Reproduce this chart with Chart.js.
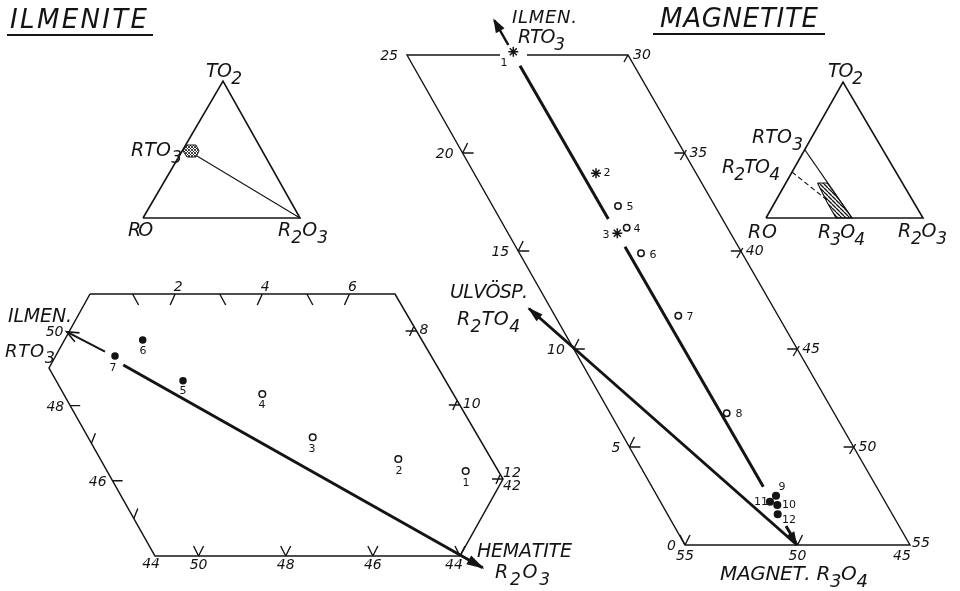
<!DOCTYPE html>
<html>
<head>
<meta charset="utf-8">
<script src="https://cdn.jsdelivr.net/npm/chart.js@4.4.1/dist/chart.umd.min.js"></script>
<style>
  html, body { margin: 0; padding: 0; background: #fff; }
  canvas { display: block; }
</style>
</head>
<body>
<canvas id="fig" width="960" height="591"></canvas>
<script>
// ---- values (figure units, y grows downwards) ----

// ilmenite analyses plotted in the hexagon
var ilmNo = ['1', '2', '3', '4', '5', '6', '7'];
var ilmX = [465.7, 398.3, 312.7, 262.3, 183, 142.7, 115];
var ilmY = [471, 459, 437.3, 394, 380.7, 340, 356];
var ilmFilled = [false, false, false, false, true, true, true];

// magnetite analyses plotted in the parallelogram
var magNo = ['1', '2', '3', '4', '5', '6', '7', '8', '9', '10', '11', '12'];
var magX = [513.3, 596, 617.3, 626.7, 618, 641, 678.3, 726.7, 776, 777.3, 770, 777.7];
var magY = [51.7, 173.3, 233.3, 227.7, 206, 253.3, 315.7, 413.3, 495.7, 505, 501.7, 514.3];
var magKind = ['star', 'star', 'star', 'open', 'open', 'open', 'open', 'open', 'dot', 'dot', 'dot', 'dot'];

// tick labels on the diagram edges
var magLeftTicks = [0, 5, 10, 15, 20, 25];
var magRightTicks = [30, 35, 40, 45, 50, 55];
var magBaseTicks = [55, 50, 45];
var ilmTopTicks = [2, 4, 6];
var ilmRightTicks = [8, 10, 12];
var ilmLeftTicks = [44, 46, 48, 50];
var ilmBaseTicks = [50, 48, 46, 44];

// ---- layout ----
var INK = '#141414';

var hexagon = [[90, 294], [395, 294], [503, 479], [460, 556], [155, 556], [49, 368], [90, 294]];
var prism = [[500, 55], [407, 55], [685, 545], [910, 545], [628, 55], [527, 55]];
var ilmTri = [[143, 218], [223, 81], [300, 218], [143, 218]];
var magTri = [[766, 218], [843, 82], [923, 218], [766, 218]];

// where the number of each analysis is written
var ilmNoAt = [[466, 486], [399, 474], [312, 452], [262, 408], [183, 394], [143, 354], [113, 371]];
var magNoAt = [[504, 66], [607, 176], [606, 238], [637, 232], [630, 210], [653, 258], [690, 320],
               [739, 417], [782, 490], [789, 508], [761, 505], [789, 523]];

var tickShapes = {
  lflag: [[0, 0, 11, 0], [0, 0, 5, -10]],
  rflag: [[-10, 0, 0, 0], [2, -3, -4, 7]],
  nick: [[0, 0, -4, 7]],
  vee: [[0, 0, -5, -10], [0, 0, 5, -10]],
  bs: [[-1, 0, 5, 11]],
  fs: [[-2, 0, -7, 11]],
  arr: [[-11, 0, 0, 0], [-7, 5, -3, -4]],
  up: [[0, 0, 4, -10]],
  hr: [[0, 0, 10, 0]]
};

// oblique edge scales: stops are [value, x, y]
var axes = [
  { stops: [[0, 685, 545], [25, 407, 55]], labels: magLeftTicks, off: [-9, 5], a: 'right',
    marks: { 5: 'lflag', 10: 'lflag', 15: 'lflag', 20: 'lflag' } },
  { stops: [[30, 628, 55], [55, 910, 545]], labels: magRightTicks, off: [5, 4], a: 'left',
    marks: { 30: 'nick', 35: 'rflag', 40: 'rflag', 45: 'rflag', 50: 'rflag' }, nudge: { 55: [-3, -2] } },
  { stops: [[55, 685, 545], [45, 910, 545]], labels: magBaseTicks, off: [0, 15], a: 'center',
    marks: { 55: 'vee', 50: 'vee' }, nudge: { 45: [-8, 0] } },
  { stops: [[0, 90, 294], [7, 395, 294]], labels: ilmTopTicks, off: [1, -3], a: 'center',
    marks: { 1: 'bs', 2: 'fs', 3: 'bs', 4: 'fs', 5: 'bs', 6: 'fs' } },
  { stops: [[7, 395, 294], [12, 503, 479]], labels: ilmRightTicks, off: [3, 3], a: 'left',
    marks: { 8: 'arr', 10: 'arr', 12: 'arr' }, nudge: { 12: [-3, -5] } },
  { stops: [[44, 155, 556], [49, 49, 368], [51, 90, 294]], labels: ilmLeftTicks, off: [-6, 5], a: 'right',
    marks: { 45: 'up', 46: 'hr', 47: 'up', 48: 'hr' }, nudge: { 44: [11, 7] } },
  { stops: [[51, 155, 556], [44, 460, 556]], labels: ilmBaseTicks, off: [0, 13], a: 'center',
    marks: { 50: 'vee', 48: 'vee', 46: 'vee', 44: 'vee' }, nudge: { 44: [-6, 0] } }
];

var notes = [
  { t: 'ILMENITE', x: 10, y: 28, s: 26, w: 137 },
  { t: 'MAGNETITE', x: 660, y: 27, s: 26, w: 158 },
  { t: 'TO_2', x: 206, y: 77, s: 19, w: 36 },
  { t: 'RTO_3', x: 131, y: 156, s: 19, w: 51 },
  { t: 'RO', x: 128, y: 236, s: 19, w: 24 },
  { t: 'R_2O_3', x: 278, y: 236, s: 19, w: 50 },
  { t: 'ILMEN.', x: 8, y: 322, s: 19, w: 64 },
  { t: 'RTO_3', x: 5, y: 357, s: 18, w: 50 },
  { t: 'HEMATITE', x: 477, y: 557, s: 19, w: 95 },
  { t: 'R_2O_3', x: 495, y: 578, s: 19, w: 55 },
  { t: '42', x: 503, y: 490, s: 14 },
  { t: 'ILMEN.', x: 512, y: 23, s: 18, w: 65 },
  { t: 'RTO_3', x: 518, y: 43, s: 19, w: 47 },
  { t: 'ULVÖSP.', x: 450, y: 298, s: 19, w: 78 },
  { t: 'R_2TO_4', x: 457, y: 325, s: 19, w: 63 },
  { t: 'MAGNET. R_3O_4', x: 720, y: 580, s: 20, w: 148 },
  { t: 'TO_2', x: 828, y: 77, s: 19, w: 35 },
  { t: 'RTO_3', x: 752, y: 143, s: 19, w: 51 },
  { t: 'R_2TO_4', x: 722, y: 173, s: 19, w: 58 },
  { t: 'RO', x: 748, y: 238, s: 19, w: 29 },
  { t: 'R_3O_4', x: 818, y: 238, s: 19, w: 47 },
  { t: 'R_2O_3', x: 898, y: 237, s: 19, w: 49 }
];

// ---- helpers ----
function along(stops, v) {
  for (var i = 0; i < stops.length - 1; i++) {
    var a = stops[i], b = stops[i + 1];
    if (v >= Math.min(a[0], b[0]) && v <= Math.max(a[0], b[0])) {
      var f = (v - a[0]) / (b[0] - a[0]);
      return [a[1] + f * (b[1] - a[1]), a[2] + f * (b[2] - a[2])];
    }
  }
  return null;
}

function toData(list) {
  return list.map(function (p) { return p ? { x: p[0], y: p[1] } : { x: null, y: null }; });
}

function path(points, width, extra) {
  return Object.assign({
    data: toData(points), showLine: true, pointRadius: 0, pointHoverRadius: 0,
    borderColor: INK, borderWidth: width, backgroundColor: INK, fill: false,
    spanGaps: false, clip: false, borderCapStyle: 'butt', borderJoinStyle: 'miter', order: 1
  }, extra || {});
}

function marks(xs, ys, keep, style, r, inside) {
  var d = [];
  xs.forEach(function (x, i) { if (keep(i)) d.push({ x: x, y: ys[i] }); });
  return {
    data: d, showLine: false, pointStyle: style, pointRadius: r, pointHoverRadius: r,
    pointBorderWidth: 1.5, pointBorderColor: INK, pointBackgroundColor: inside, clip: false, order: 0
  };
}

function hatch(step, cross, lw) {
  var c = document.createElement('canvas');
  c.width = c.height = step;
  var g = c.getContext('2d');
  g.strokeStyle = INK;
  g.lineWidth = lw;
  g.beginPath();
  for (var k = -1; k <= 1; k++) {
    g.moveTo(k * step, 0); g.lineTo(k * step + step, step);
    if (cross) { g.moveTo(k * step + step, 0); g.lineTo(k * step, step); }
  }
  g.stroke();
  return document.getElementById('fig').getContext('2d').createPattern(c, 'repeat');
}

// tick marks and tick labels from the edge scales
var tickPts = [];
var allText = notes.slice();
axes.forEach(function (ax) {
  Object.keys(ax.marks).forEach(function (k) {
    var p = along(ax.stops, +k);
    tickShapes[ax.marks[k]].forEach(function (s) {
      tickPts.push([p[0] + s[0], p[1] + s[1]], [p[0] + s[2], p[1] + s[3]], null);
    });
  });
  ax.labels.forEach(function (v) {
    var p = along(ax.stops, v);
    var n = (ax.nudge && ax.nudge[v]) || [0, 0];
    allText.push({ t: String(v), x: p[0] + ax.off[0] + n[0], y: p[1] + ax.off[1] + n[1], s: 14, a: ax.a });
  });
});
ilmNo.forEach(function (t, i) {
  allText.push({ t: t, x: ilmNoAt[i][0], y: ilmNoAt[i][1], s: 11, a: 'center', up: true });
});
magNo.forEach(function (t, i) {
  allText.push({ t: t, x: magNoAt[i][0], y: magNoAt[i][1], s: 11, a: 'center', up: true });
});

function writeText(c, n, px, py) {
  var face = '"DejaVu Sans", "Liberation Sans", sans-serif';
  var style = n.up ? '' : 'italic ';
  var base = style + n.s + 'px ' + face;
  var sub = style + Math.round(n.s * 0.9) + 'px ' + face;
  var runs = [];
  for (var i = 0; i < n.t.length; i++) {
    if (n.t[i] === '_') { runs.push({ ch: n.t[i + 1], sub: true }); i++; }
    else runs.push({ ch: n.t[i], sub: false });
  }
  var total = 0;
  runs.forEach(function (r) { c.font = r.sub ? sub : base; r.w = c.measureText(r.ch).width; total += r.w; });
  var gap = 0;
  if (n.w && runs.length > 1) gap = Math.max(-3, Math.min(8, (n.w - total) / (runs.length - 1)));
  var full = total + gap * (runs.length - 1);
  var x = n.a === 'center' ? px - full / 2 : n.a === 'right' ? px - full : px;
  runs.forEach(function (r) {
    c.font = r.sub ? sub : base;
    c.fillText(r.ch, x, r.sub ? py + n.s * 0.35 : py);
    x += r.w + gap;
  });
}

var headPlugin = {
  id: 'arrowHeads',
  afterDatasetsDraw: function (chart) {
    var c = chart.ctx;
    chart.data.datasets.forEach(function (ds, i) {
      if (!ds.head) return;
      var el = chart.getDatasetMeta(i).data;
      var a = el[el.length - 2], b = el[el.length - 1];
      var ang = Math.atan2(b.y - a.y, b.x - a.x);
      var cs = Math.cos(ang), sn = Math.sin(ang), h = ds.head;
      var tx = b.x + cs * 2, ty = b.y + sn * 2;
      var bx = tx - cs * h.len, by = ty - sn * h.len;
      c.save();
      c.strokeStyle = INK;
      c.fillStyle = INK;
      c.beginPath();
      if (h.open) {
        c.lineWidth = 1.6;
        c.moveTo(bx - sn * h.half, by + cs * h.half);
        c.lineTo(tx, ty);
        c.lineTo(bx + sn * h.half, by - cs * h.half);
        c.stroke();
      } else {
        c.moveTo(tx, ty);
        c.lineTo(bx - sn * h.half, by + cs * h.half);
        c.lineTo(bx + sn * h.half, by - cs * h.half);
        c.closePath();
        c.fill();
      }
      c.restore();
    });
  }
};

var textPlugin = {
  id: 'figureText',
  afterDatasetsDraw: function (chart) {
    var c = chart.ctx, xs = chart.scales.x, ys = chart.scales.y;
    c.save();
    c.fillStyle = INK;
    c.textBaseline = 'alphabetic';
    allText.forEach(function (n) {
      writeText(c, n, xs.getPixelForValue(n.x), ys.getPixelForValue(n.y));
    });
    c.restore();
  }
};

// ---- datasets ----
var sets = [
  // frames and title rules
  path(hexagon, 1.5),
  path(prism, 1.4),
  path(ilmTri, 1.6),
  path(magTri, 1.6),
  path([[7, 35], [153, 35], null, [653, 34], [825, 34]], 2.2),
  path(tickPts, 1.4),

  // small ternary sketches
  path([[197, 156], [300, 218]], 1.1),
  path([[183, 151], [187, 145], [196, 145], [199, 151], [196, 157], [187, 157], [183, 151]], 1,
       { fill: 'shape', backgroundColor: hatch(3, true, 0.8), order: 2 }),
  path([[805, 150], [852, 218]], 1.3),
  path([[792, 172], [827, 200]], 1.1, { borderDash: [5, 3] }),
  path([[817.5, 183], [827.5, 183], [852, 218], [836, 218], [827, 202], [817.5, 183]], 1.1,
       { fill: 'shape', backgroundColor: hatch(4, false, 1.3), order: 2 }),

  // ilmenite - hematite join
  path([[123.3, 365], [482.7, 567.7]], 3, { head: { len: 18, half: 5 } }),
  path([[105, 351.7], [68.3, 332.7]], 2, { head: { len: 12, half: 5, open: true } }),

  // magnetite - ilmenite and magnetite - ulvospinel joins
  path([[520, 65.7], [608.3, 219]], 3),
  path([[625, 246.7], [763.3, 486.7]], 3),
  path([[786, 526], [796, 543]], 3, { head: { len: 13, half: 4.5 } }),
  path([[508.3, 45], [494.3, 20.3]], 2.5, { head: { len: 14, half: 5 } }),
  path([[797, 545], [529, 308.5]], 3, { head: { len: 16, half: 4.5 } }),

  // analyses
  marks(ilmX, ilmY, function (i) { return !ilmFilled[i]; }, 'circle', 3.3, '#fff'),
  marks(ilmX, ilmY, function (i) { return ilmFilled[i]; }, 'circle', 3, INK),
  marks(magX, magY, function (i) { return magKind[i] === 'open'; }, 'circle', 3.2, '#fff'),
  marks(magX, magY, function (i) { return magKind[i] === 'dot'; }, 'circle', 3.3, INK),
  marks(magX, magY, function (i) { return magKind[i] === 'star'; }, 'star', 5, INK)
];

new Chart(document.getElementById('fig'), {
  type: 'scatter',
  data: { datasets: sets },
  options: {
    responsive: false,
    animation: false,
    events: [],
    layout: { padding: 0, autoPadding: false },
    elements: { line: { tension: 0 } },
    scales: {
      x: { type: 'linear', display: false, min: 0, max: 960 },
      y: { type: 'linear', display: false, min: 0, max: 591, reverse: true }
    },
    plugins: { legend: { display: false }, tooltip: { enabled: false } }
  },
  plugins: [headPlugin, textPlugin]
});
</script>
</body>
</html>
